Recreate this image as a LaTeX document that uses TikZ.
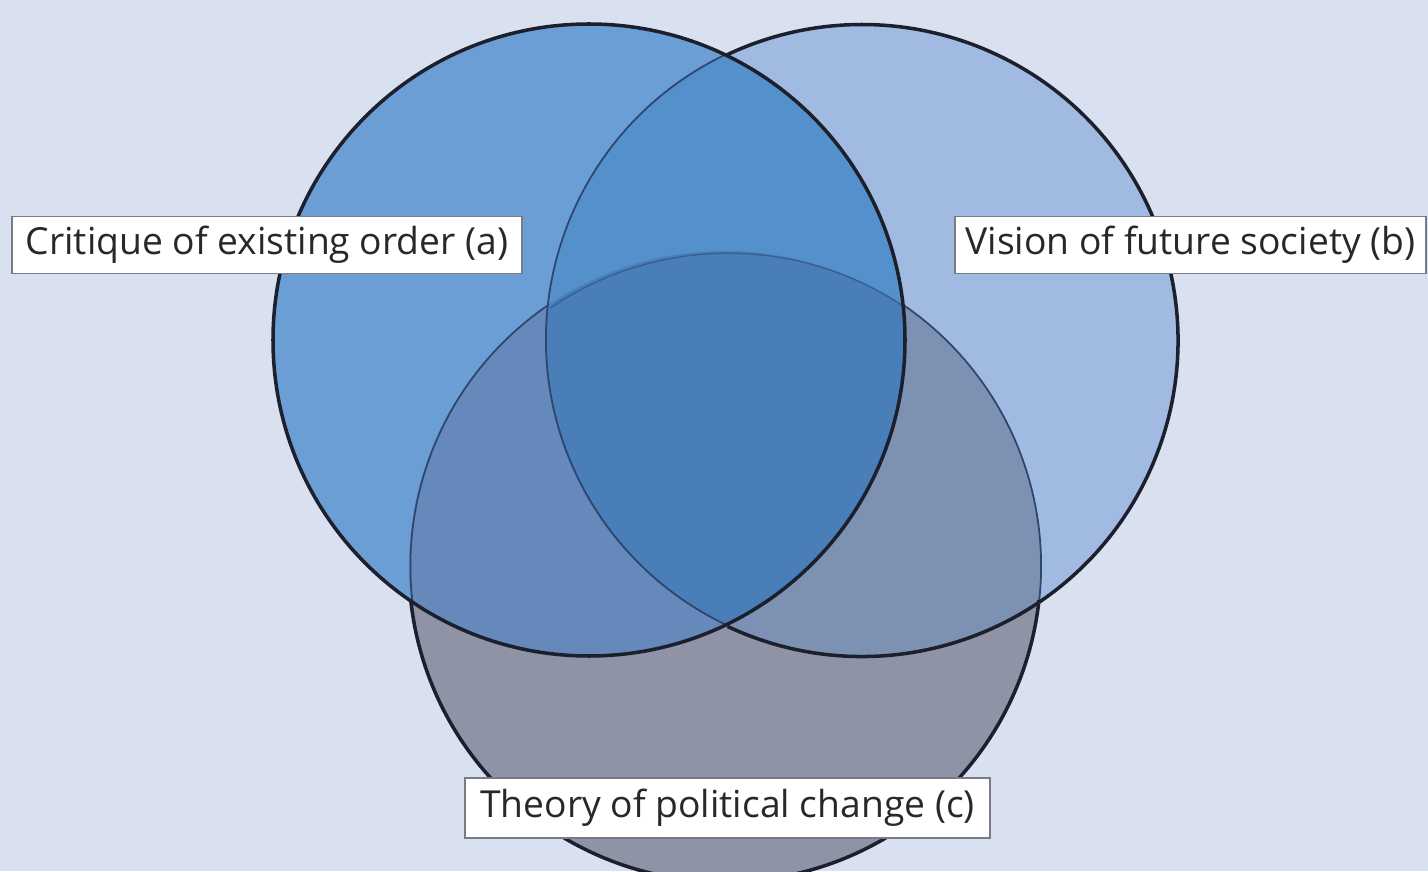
\documentclass[tikz,border=0pt]{standalone}
\usepackage{fontspec}
\setsansfont{Open Sans}
\usetikzlibrary{positioning}
\definecolor{bgcol}{RGB}{217,224,240}
\definecolor{colA}{RGB}{107,158,213}
\definecolor{colB}{RGB}{161,186,225}
\definecolor{colC}{RGB}{142,148,166}
\definecolor{colAB}{RGB}{84,144,204}
\definecolor{colAC}{RGB}{101,137,187}
\definecolor{colBC}{RGB}{125,145,178}
\definecolor{colABC}{RGB}{74,126,185}
\definecolor{linedark}{RGB}{28,32,45}
\definecolor{linemid}{RGB}{45,70,110}
\definecolor{linefaint}{RGB}{55,95,150}
\definecolor{labelgray}{RGB}{120,124,135}
\definecolor{textgray}{RGB}{40,40,40}
\tikzset{
    setcircle/.style = {circle, inner sep=0pt, outer sep=0pt, minimum size=6.32cm},
    mylabel/.style = {rectangle, draw=labelgray, line width=0.5pt, fill=white, inner sep=0pt,
                      minimum height=0.57cm, text=textgray, font=\sffamily\fontsize{10.6}{12}\selectfont},
    edgen/.style = {line width=1pt, draw=linedark},            % outer rim
    edgem/.style = {line width=0.5pt, draw=linemid},           % rim seen through one set
    edgef/.style = {line width=0.4pt, draw=linefaint},         % rim seen through two sets
}

\begin{document}
\begin{tikzpicture}
\useasboundingbox (0,0) rectangle (14.28,8.71);
\clip (0,0) rectangle (14.28,8.71);
\fill[bgcol] (0,0) rectangle (14.28,8.71);
%
\def\rad{3.16}
\node[setcircle] (a) at (5.89,5.31) {};
\node[setcircle] (b) at (8.61,5.31) {};
\node[setcircle] (c) at (7.25,3.04) {};
%
\fill[colA] (a.center) circle (\rad);
\fill[colB] (b.center) circle (\rad);
\fill[colC] (c.center) circle (\rad);
\begin{scope}
  \clip (a.center) circle (\rad);
  \fill[colAB] (b.center) circle (\rad);
\end{scope}
\begin{scope}
  \clip (a.center) circle (\rad);
  \fill[colAC] (c.center) circle (\rad);
\end{scope}
\begin{scope}
  \clip (b.center) circle (\rad);
  \fill[colBC] (c.center) circle (\rad);
\end{scope}
\begin{scope}
  \clip (a.center) circle (\rad);
  \clip (b.center) circle (\rad);
  \fill[colABC] (c.center) circle (\rad);
\end{scope}
%
\draw[edgef] (c.55.7) arc[start angle=55.7, end angle=124.3, radius=\rad];
\draw[edgem] (c.124.3) arc[start angle=124.3, end angle=186.2, radius=\rad];
\draw[edgem] (c.-6.2) arc[start angle=-6.2, end angle=55.7, radius=\rad];
\draw[edgen] (c.186.2) arc[start angle=186.2, end angle=353.8, radius=\rad];
\draw[edgem] (b.115.2) arc[start angle=115.2, end angle=244.8, radius=\rad];
\draw[edgen] (b.-115.2) arc[start angle=-115.2, end angle=115.2, radius=\rad];
\draw[edgen] (a.center) circle (\rad);
%
\node[mylabel, minimum width=5.10cm] (la) at (2.67,6.26) {Critique of existing order (a)};
\node[mylabel, minimum width=4.71cm] (lb) at (11.905,6.26) {Vision of future society (b)};
\node[mylabel, minimum width=5.25cm, minimum height=0.60cm] (lc) at (7.275,0.63) {Theory of political change (c)};
\end{tikzpicture}
\end{document}
